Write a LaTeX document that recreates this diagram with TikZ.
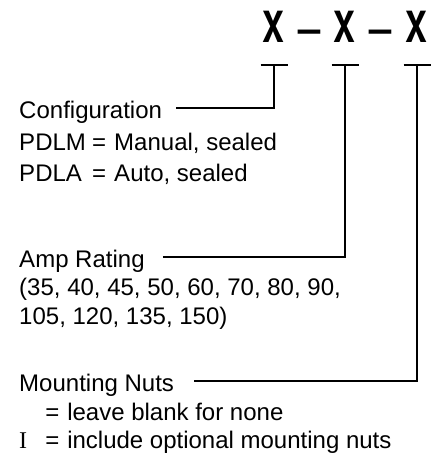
\documentclass[tikz,border=0pt]{standalone}
\usepackage{fontspec}
\usepackage{graphicx}
\setmainfont{Liberation Sans}
\newfontfamily\codefont{TeX Gyre Heros}
\newfontfamily\romanI{Liberation Serif}
\usetikzlibrary{positioning}
\newcommand{\eqpad}[2]{\makebox[#1][l]{#2}}
\newcommand{\narrowX}{\scalebox{0.76}[1]{X}}

\begin{document}
\begin{tikzpicture}[
  x=1pt, y=-1pt,
  line width=2.5pt,
  txt/.style={anchor=base west, inner sep=0pt, font=\fontsize{24}{28}\selectfont},
  code/.style={anchor=base, inner sep=0pt, font=\codefont\bfseries\fontsize{43}{43}\selectfont},
  sep/.style={anchor=base, inner sep=0pt, font=\codefont\bfseries\fontsize{40}{40}\selectfont}
]
\useasboundingbox (0,0) rectangle (444,468);
% ordering code
\node[code] (x1) at (273,43) {\narrowX};
\node[sep] (d1) at (310,43) {\textendash};
\node[code] (x2) at (344,43) {\narrowX};
\node[sep] (d2) at (381,43) {\textendash};
\node[code] (x3) at (416,43) {\narrowX};
\coordinate (t1) at ([xshift=1pt,yshift=-22pt]x1.base);
\coordinate (t2) at ([xshift=1pt,yshift=-22pt]x2.base);
\coordinate (t3) at ([xshift=1pt,yshift=-22pt]x3.base);
\foreach \t in {t1,t2,t3}
  \draw ([xshift=-13.5pt]\t) -- ([xshift=13.5pt]\t);
% field descriptions
\node[txt] (cfg) at (18,119) {Configuration};
\node[txt] (pdlm) at (18,150) {\eqpad{73pt}{PDLM}=\hspace{8pt}Manual, sealed};
\node[txt] (pdla) at (18,181) {\eqpad{73pt}{PDLA}=\hspace{8pt}Auto, sealed};
\node[txt] (amp) at (18,267) {Amp Rating};
\node[txt] (amps1) at (18,295) {(35, 40, 45, 50, 60, 70, 80, 90,};
\node[txt] (amps2) at (18,324) {105, 120, 135, 150)};
\node[txt] (nuts) at (18,391) {Mounting Nuts};
\node[txt] (blank) at (18,420) {\eqpad{26pt}{}=\hspace{8pt}leave blank for none};
\node[txt] (incl) at (18,448) {\eqpad{26pt}{\romanI I}=\hspace{8pt}include optional mounting nuts};
\draw ([xshift=13pt,yshift=11pt]cfg.base east) -| (t1);
\draw ([xshift=17pt,yshift=10pt]amp.base east) -| (t2);
\draw ([xshift=19pt,yshift=10pt]nuts.base east) -| (t3);
\end{tikzpicture}
\end{document}
